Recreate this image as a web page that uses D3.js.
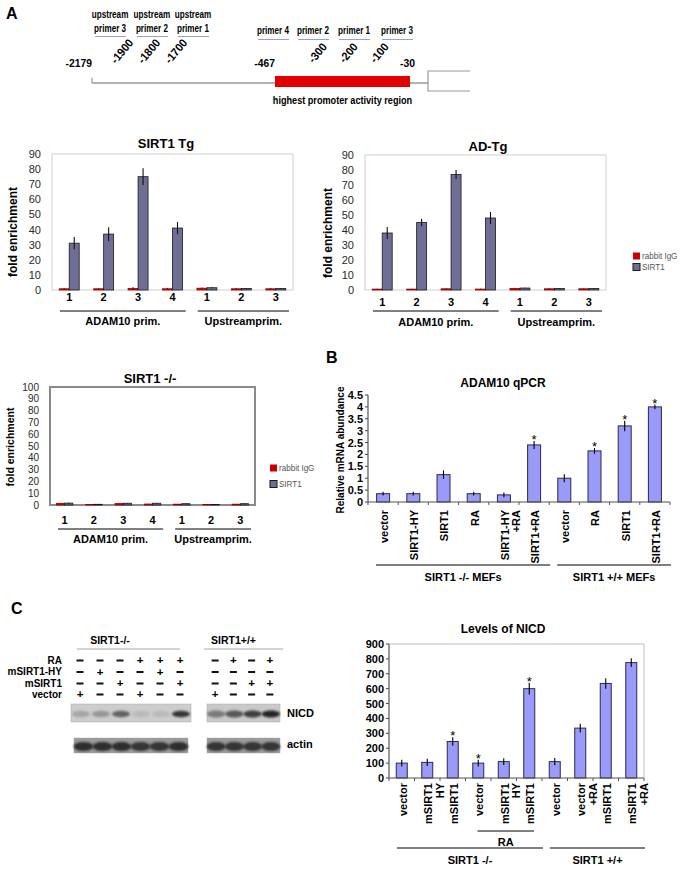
<!DOCTYPE html>
<html>
<head>
<meta charset="utf-8">
<script src="https://cdn.jsdelivr.net/npm/d3@7/dist/d3.min.js"></script>
<style>
  body { margin: 0; background: #fff; }
  svg { display: block; }
  text { font-family: "Liberation Sans", Arial, sans-serif; fill: #000; }
</style>
</head>
<body>
<div id="fig"></div>
<script>
// ---------- data ----------
// panel A, promoter map
const promoterMarks = [-2179, -1900, -1800, -1700, -467, -300, -200, -100, -30];
const rotatedMarks = [-1900, -1800, -1700, -300, -200, -100];
const primerNames = ['upstream primer 3', 'upstream primer 2', 'upstream primer 1',
  'primer 4', 'primer 2', 'primer 1', 'primer 3'];
const primerBp = [-2056, -1830, -1616, -495, -344, -211, -72];
const activityRegion = [-467, -30];

// panel A, ChIP
const chipLabels = ['1', '2', '3', '4', '1', '2', '3'];
const chipGroups = ['ADAM10 prim.', 'Upstreamprim.'];
const chipGroupSize = [4, 3];
const seriesNames = ['rabbit IgG', 'SIRT1'];

const tgIgg = [0.8, 0.8, 1.0, 0.8, 1.2, 0.8, 0.8];
const tgIggErr = [0.6, 0.6, 1.0, 0.6, 0.4, 0.5, 0.5];
const tgSirt1 = [31, 37, 75, 41, 1.5, 1.0, 1.0];
const tgSirt1Err = [4, 4.5, 5.5, 4, 0.3, 0.2, 0.2];

const adIgg = [0.6, 0.6, 0.8, 0.6, 1.0, 0.8, 0.8];
const adIggErr = [0.3, 0.3, 0.4, 0.3, 0.3, 0.3, 0.3];
const adSirt1 = [38, 45, 77, 48, 1.3, 1.0, 1.0];
const adSirt1Err = [4, 2.5, 3, 4, 0.2, 0.2, 0.2];

const koIgg = [1.4, 0.4, 1.2, 0.8, 0.7, 0.4, 0.7];
const koIggErr = [0.3, 0.2, 0.3, 0.2, 0.2, 0.2, 0.2];
const koSirt1 = [1.6, 0.6, 1.5, 1.5, 1.1, 0.5, 1.1];
const koSirt1Err = [0.3, 0.2, 0.3, 0.3, 0.2, 0.2, 0.2];

// panel B
const qpcrLabels = ['vector', 'SIRT1-HY', 'SIRT1', 'RA', 'SIRT1-HY\n+RA', 'SIRT1+RA',
  'vector', 'RA', 'SIRT1', 'SIRT1+RA'];
const qpcrValues = [0.35, 0.35, 1.15, 0.35, 0.3, 2.4, 1.0, 2.15, 3.2, 4.0];
const qpcrErr = [0.08, 0.08, 0.18, 0.08, 0.1, 0.17, 0.17, 0.12, 0.22, 0.1];
const qpcrStar = [0, 0, 0, 0, 0, 1, 0, 1, 1, 1];
const qpcrGroups = ['SIRT1 -/- MEFs', 'SIRT1 +/+ MEFs'];
const qpcrGroupSize = [6, 4];

// panel C, blot
const blotRows = ['RA', 'mSIRT1-HY', 'mSIRT1', 'vector'];
const koSigns = [[0, 0, 0, 1, 1, 1], [0, 1, 0, 0, 1, 0], [0, 0, 1, 0, 0, 1], [1, 0, 0, 1, 0, 0]];
const wtSigns = [[0, 1, 0, 1], [0, 0, 0, 0], [0, 0, 1, 1], [1, 0, 0, 0]];
const nicdKO = [0.22, 0.3, 0.6, 0.1, 0.1, 0.85];
const nicdWT = [0.45, 0.65, 0.8, 0.95];
const actinKO = [0.85, 0.85, 0.85, 0.8, 0.8, 0.85];
const actinWT = [0.8, 0.8, 0.8, 0.8];

// panel C, NICD levels
const nicdLabels = ['vector', 'mSIRT1\nHY', 'mSIRT1', 'vector', 'mSIRT1\nHY', 'mSIRT1',
  'vector', 'vector\n+RA', 'mSIRT1', 'mSIRT1\n+RA'];
const nicdValues = [100, 105, 245, 100, 110, 600, 110, 335, 635, 775];
const nicdErr = [22, 25, 28, 22, 22, 40, 25, 30, 35, 30];
const nicdStar = [0, 0, 1, 1, 0, 1, 0, 0, 0, 0];
const nicdGroups = ['SIRT1 -/-', 'SIRT1 +/+'];
const nicdGroupSize = [6, 4];

// ---------- canvas ----------
const width = 681;
const height = 869;

const svg = d3.select('#fig')
  .append('svg')
  .attr('width', width)
  .attr('height', height)
  .attr('xmlns', 'http://www.w3.org/2000/svg');

const defs = svg.append('defs');
defs.append('filter').attr('id', 'blur')
  .attr('x', '-50%').attr('y', '-50%').attr('width', '200%').attr('height', '200%')
  .append('feGaussianBlur').attr('stdDeviation', 1.3);

function letter(t, x, y) {
  svg.append('text').attr('x', x).attr('y', y)
    .style('font-size', '16px').style('font-weight', 'bold')
    .text(t);
}

letter('A', 6, 19);
letter('B', 326, 363);
letter('C', 11, 614);

// ---------- panel A: promoter map ----------
const map = svg.append('g');
const pos = d3.scaleLinear()
  .domain([-2179, -1900, -1700, -467, -30])
  .range([92, 133, 187, 275, 410]);
const mapY = 83;
const tss = 428;

map.append('line').attr('x1', pos(-2179)).attr('x2', tss)
  .attr('y1', mapY).attr('y2', mapY)
  .attr('stroke', '#999').attr('stroke-width', 1.5);
map.append('line').attr('x1', pos(-2179)).attr('x2', pos(-2179))
  .attr('y1', mapY - 5).attr('y2', mapY)
  .attr('stroke', '#999').attr('stroke-width', 1.2);
map.append('path')
  .attr('d', `M${tss + 42},71 H${tss} V91 H${tss + 42}`)
  .attr('fill', 'none').attr('stroke', '#999').attr('stroke-width', 1.2);
map.append('rect')
  .attr('x', pos(activityRegion[0])).attr('y', 76)
  .attr('width', pos(activityRegion[1]) - pos(activityRegion[0])).attr('height', 11)
  .attr('fill', '#e20000');

const boldText = (sel, size) => sel.style('font-size', `${size}px`).style('font-weight', 'bold');

map.append('text')
  .attr('transform', `translate(${(pos(activityRegion[0]) + pos(activityRegion[1])) / 2},104) scale(0.83,1)`)
  .attr('text-anchor', 'middle')
  .call(boldText, 11)
  .text('highest promoter activity region');

// straight position labels
map.selectAll('.mark')
  .data(promoterMarks.filter((d) => !rotatedMarks.includes(d)))
  .enter().append('text')
  .attr('transform', (d) => `translate(${d === -30 ? pos(d) + 5 : pos(d)},67) scale(0.9,1)`)
  .attr('text-anchor', 'end')
  .call(boldText, 11.5)
  .text((d) => `-${-d}`);

// slanted position labels
map.selectAll('.rmark')
  .data(rotatedMarks)
  .enter().append('text')
  .attr('transform', (d) => `translate(${pos(d) + 1},${d < -1000 ? 43 : 47}) rotate(-50) scale(0.95,1)`)
  .attr('text-anchor', 'end')
  .call(boldText, 11.5)
  .text((d) => `-${-d}`);

// primer labels
const primer = map.selectAll('.primer')
  .data(primerNames)
  .enter().append('g')
  .attr('transform', (d, i) => `translate(${pos(primerBp[i])},0)`);

primer.append('text')
  .attr('transform', (d) => `translate(0,${d.startsWith('upstream') ? 32 : 34}) scale(0.74,1)`)
  .attr('text-anchor', 'middle')
  .call(boldText, 11)
  .text((d) => d.replace('upstream ', ''));

primer.filter((d) => d.startsWith('upstream'))
  .append('text')
  .attr('transform', 'translate(0,18) scale(0.74,1)')
  .attr('text-anchor', 'middle')
  .call(boldText, 11)
  .text('upstream');

primer.append('line')
  .attr('x1', -15).attr('x2', 16)
  .attr('y1', (d) => (d.startsWith('upstream') ? 36.5 : 39.5))
  .attr('y2', (d) => (d.startsWith('upstream') ? 36.5 : 39.5))
  .attr('stroke', '#9a9ae0').attr('stroke-width', 1);

// ---------- panel A: ChIP charts ----------
function chipChart(c) {
  const g = svg.append('g');
  const x = d3.scaleBand().domain(d3.range(chipLabels.length)).range([c.left, c.right]);
  const y = d3.scaleLinear().domain([0, c.ymax]).range([c.bottom, c.top]);
  const bw = x.bandwidth() * c.barFrac;
  const mid = (i) => x(i) + x.bandwidth() / 2;

  g.append('rect')
    .attr('x', c.left).attr('y', c.top)
    .attr('width', c.right - c.left).attr('height', c.bottom - c.top)
    .attr('fill', 'none').attr('stroke', c.frame).attr('stroke-width', c.frameW);

  g.selectAll('.ytick')
    .data(d3.range(0, c.ymax + 1, 10))
    .enter().append('text')
    .attr('x', c.left - 11)
    .attr('y', (d) => y(d))
    .attr('dy', '0.36em')
    .attr('text-anchor', 'end')
    .style('font-size', `${c.tickSize}px`)
    .style('fill', '#2a2a2a')
    .text((d) => d);

  g.append('text')
    .attr('transform', `translate(${c.yTitleX},${c.yTitleY}) rotate(-90)`)
    .attr('text-anchor', 'middle')
    .style('font-size', `${c.yTitleSize}px`)
    .style('font-weight', 'bold')
    .text('fold enrichment');

  g.append('text')
    .attr('x', c.titleX).attr('y', c.titleY)
    .attr('text-anchor', 'middle')
    .style('font-size', '13px').style('font-weight', 'bold')
    .text(c.title);

  const series = [
    { vals: c.igg, err: c.iggErr, fill: '#cc0000', stroke: '#990000', dx: -bw },
    { vals: c.sirt1, err: c.sirt1Err, fill: '#6f6f96', stroke: '#1a1a1a', dx: 0 },
  ];

  series.forEach((s) => {
    g.selectAll(null)
      .data(s.vals)
      .enter().append('rect')
      .attr('x', (d, i) => mid(i) + s.dx)
      .attr('y', (d) => y(d))
      .attr('width', bw)
      .attr('height', (d) => y(0) - y(d))
      .attr('fill', s.fill)
      .attr('stroke', s.stroke)
      .attr('stroke-width', 0.8);

    g.selectAll(null)
      .data(s.vals)
      .enter().append('line')
      .attr('x1', (d, i) => mid(i) + s.dx + bw / 2)
      .attr('x2', (d, i) => mid(i) + s.dx + bw / 2)
      .attr('y1', (d, i) => y(d + s.err[i]))
      .attr('y2', (d, i) => y(Math.max(0, d - s.err[i])))
      .attr('stroke', s.dx < 0 ? '#990000' : '#111')
      .attr('stroke-width', 1.1);
  });

  g.selectAll('.xl')
    .data(chipLabels)
    .enter().append('text')
    .attr('x', (d, i) => mid(i))
    .attr('y', c.bottom + c.labelDy)
    .attr('text-anchor', 'middle')
    .style('font-size', '11px').style('font-weight', 'bold')
    .text((d) => d);

  let start = 0;
  chipGroups.forEach((name, gi) => {
    const end = start + chipGroupSize[gi] - 1;
    const x1 = x(start) + 8;
    const x2 = x(end) + x.bandwidth() - 4;
    g.append('line')
      .attr('x1', x1).attr('x2', x2)
      .attr('y1', c.bottom + c.lineDy).attr('y2', c.bottom + c.lineDy)
      .attr('stroke', '#000').attr('stroke-width', 1);
    g.append('text')
      .attr('x', (x1 + x2) / 2).attr('y', c.bottom + c.groupDy)
      .attr('text-anchor', 'middle')
      .style('font-size', '11px').style('font-weight', 'bold')
      .text(name);
    start = end + 1;
  });

  if (c.legend) {
    const lg = g.append('g').attr('transform', `translate(${c.legend.x},${c.legend.y})`);
    seriesNames.forEach((name, i) => {
      lg.append('rect')
        .attr('x', 0).attr('y', i * c.legend.gap - 3.5)
        .attr('width', 7).attr('height', 7)
        .attr('fill', series[i].fill)
        .attr('stroke', i ? '#1a1a1a' : 'none');
      lg.append('text')
        .attr('transform', `translate(9,${i * c.legend.gap}) scale(0.85,1)`)
        .attr('dy', '0.35em')
        .style('font-size', '9.5px')
        .style('fill', '#555')
        .text(name);
    });
  }
}

chipChart({
  title: 'SIRT1 Tg', titleX: 166, titleY: 148,
  left: 52, right: 293, top: 154, bottom: 290, ymax: 90,
  tickSize: 11, yTitleX: 17, yTitleY: 232, yTitleSize: 12,
  barFrac: 0.29, frame: '#cfcfcf', frameW: 1,
  labelDy: 11, lineDy: 21, groupDy: 35,
  igg: tgIgg, iggErr: tgIggErr, sirt1: tgSirt1, sirt1Err: tgSirt1Err,
  legend: null,
});

chipChart({
  title: 'AD-Tg', titleX: 488, titleY: 151,
  left: 365, right: 606, top: 155, bottom: 290, ymax: 90,
  tickSize: 11, yTitleX: 332, yTitleY: 233, yTitleSize: 12,
  barFrac: 0.29, frame: '#cfcfcf', frameW: 1,
  labelDy: 16, lineDy: 21, groupDy: 36,
  igg: adIgg, iggErr: adIggErr, sirt1: adSirt1, sirt1Err: adSirt1Err,
  legend: { x: 633, y: 256, gap: 11 },
});

chipChart({
  title: 'SIRT1 -/-', titleX: 150, titleY: 383,
  left: 50, right: 255, top: 387, bottom: 505, ymax: 100,
  tickSize: 10, yTitleX: 14, yTitleY: 447, yTitleSize: 10.5,
  barFrac: 0.28, frame: '#8a8a8a', frameW: 2,
  labelDy: 19, lineDy: 24, groupDy: 38,
  igg: koIgg, iggErr: koIggErr, sirt1: koSirt1, sirt1Err: koSirt1Err,
  legend: { x: 270, y: 468, gap: 16 },
});

// ---------- panels B and C: single series bars ----------
function barChart(c) {
  const g = svg.append('g');
  const x = d3.scaleBand().domain(d3.range(c.values.length)).range([c.left, c.right]);
  const y = d3.scaleLinear().domain([0, c.ymax]).range([c.bottom, c.top]);
  const mid = (i) => x(i) + x.bandwidth() / 2;

  if (c.frame) {
    g.append('path')
      .attr('d', `M${c.left},${c.top} H${c.right} V${c.bottom}`)
      .attr('fill', 'none').attr('stroke', '#bdbdbd').attr('stroke-width', 1);
  }

  g.append('text')
    .attr('x', c.titleX).attr('y', c.titleY)
    .attr('text-anchor', 'middle')
    .style('font-size', '12px').style('font-weight', 'bold')
    .text(c.title);

  const yTicks = d3.range(0, c.ymax + c.step / 2, c.step);
  g.selectAll('.yt')
    .data(yTicks)
    .enter().append('line')
    .attr('x1', c.left - 3).attr('x2', c.left)
    .attr('y1', (d) => y(d)).attr('y2', (d) => y(d))
    .attr('stroke', '#444');
  g.selectAll('.yl')
    .data(yTicks)
    .enter().append('text')
    .attr('x', c.left - 5)
    .attr('y', (d) => y(d))
    .attr('dy', '0.36em')
    .attr('text-anchor', 'end')
    .style('font-size', `${c.tickSize}px`).style('font-weight', 'bold')
    .text((d) => +d.toFixed(1));

  if (c.yTitle) {
    g.append('text')
      .attr('transform', `translate(${c.yTitleX},${c.yTitleY}) rotate(-90)`)
      .attr('text-anchor', 'middle')
      .style('font-size', '10px').style('font-weight', 'bold')
      .text(c.yTitle);
  }

  g.selectAll('.bar')
    .data(c.values)
    .enter().append('rect')
    .attr('x', (d, i) => mid(i) - c.barW / 2)
    .attr('y', (d) => y(d))
    .attr('width', c.barW)
    .attr('height', (d) => y(0) - y(d))
    .attr('fill', '#9a9af8')
    .attr('stroke', '#2a2a55')
    .attr('stroke-width', 1);

  g.selectAll('.err')
    .data(c.values)
    .enter().append('line')
    .attr('x1', (d, i) => mid(i)).attr('x2', (d, i) => mid(i))
    .attr('y1', (d, i) => y(d + c.err[i]))
    .attr('y2', (d, i) => y(d - c.err[i]))
    .attr('stroke', '#000').attr('stroke-width', 1.1);

  g.selectAll('.star')
    .data(c.values.map((d, i) => i).filter((i) => c.star[i]))
    .enter().append('text')
    .attr('x', (i) => mid(i))
    .attr('y', (i) => y(c.values[i] + c.err[i]) + 3)
    .attr('text-anchor', 'middle')
    .style('font-size', '13px')
    .text('*');

  // axes
  g.append('line')
    .attr('x1', c.left).attr('x2', c.left)
    .attr('y1', c.top).attr('y2', c.bottom)
    .attr('stroke', '#555').attr('stroke-width', 1.2);
  g.append('line')
    .attr('x1', c.left).attr('x2', c.right)
    .attr('y1', c.bottom).attr('y2', c.bottom)
    .attr('stroke', '#555').attr('stroke-width', 1.2);
  g.selectAll('.xt')
    .data(d3.range(c.values.length + 1))
    .enter().append('line')
    .attr('x1', (i) => c.left + i * x.step()).attr('x2', (i) => c.left + i * x.step())
    .attr('y1', c.bottom).attr('y2', c.bottom + 3)
    .attr('stroke', '#555');

  const lab = g.selectAll('.xl')
    .data(c.labels)
    .enter().append('text')
    .attr('transform', (d, i) => `translate(${mid(i) + 1},${c.labelTop}) rotate(-90)`)
    .attr('text-anchor', 'end')
    .style('font-size', '11px').style('font-weight', 'bold');
  lab.selectAll('tspan')
    .data((d) => d.split('\n'))
    .enter().append('tspan')
    .attr('x', 0)
    .attr('dy', (d, j) => (j ? '1.05em' : '0.36em'))
    .text((d) => d);

  (c.subGroups || []).forEach((s) => {
    const x1 = x(s.from) + 12;
    const x2 = x(s.to) + x.bandwidth() - 8;
    g.append('line')
      .attr('x1', x1).attr('x2', x2)
      .attr('y1', s.lineY).attr('y2', s.lineY)
      .attr('stroke', '#000');
    g.append('text')
      .attr('x', (x1 + x2) / 2).attr('y', s.labelY)
      .attr('text-anchor', 'middle')
      .style('font-size', '11px').style('font-weight', 'bold')
      .text(s.name);
  });

  let start = 0;
  c.groups.forEach((name, gi) => {
    const end = start + c.groupSize[gi] - 1;
    const x1 = x(start) + 8;
    const x2 = x(end) + x.bandwidth() + 1;
    g.append('line')
      .attr('x1', x1).attr('x2', x2)
      .attr('y1', c.groupLineY).attr('y2', c.groupLineY)
      .attr('stroke', '#000').attr('stroke-width', 1);
    g.append('text')
      .attr('x', (x1 + x2) / 2).attr('y', c.groupLabelY)
      .attr('text-anchor', 'middle')
      .style('font-size', '11px').style('font-weight', 'bold')
      .text(name);
    start = end + 1;
  });
}

barChart({
  title: 'ADAM10 qPCR', titleX: 503, titleY: 387,
  left: 368, right: 670, top: 395, bottom: 502, ymax: 4.5, step: 0.5,
  tickSize: 11, yTitle: 'Relative mRNA abundance', yTitleX: 344, yTitleY: 450,
  barW: 13, frame: false, labelTop: 510,
  labels: qpcrLabels, values: qpcrValues, err: qpcrErr, star: qpcrStar,
  groups: qpcrGroups, groupSize: qpcrGroupSize, groupLineY: 565, groupLabelY: 581,
});

barChart({
  title: 'Levels of NICD', titleX: 503, titleY: 633,
  left: 389, right: 644, top: 644, bottom: 778, ymax: 900, step: 100,
  tickSize: 11, yTitle: null,
  barW: 11, frame: true, labelTop: 783,
  labels: nicdLabels, values: nicdValues, err: nicdErr, star: nicdStar,
  subGroups: [{ name: 'RA', from: 3, to: 5, lineY: 831, labelY: 846 }],
  groups: nicdGroups, groupSize: nicdGroupSize, groupLineY: 848, groupLabelY: 864,
});

// ---------- panel C: western blot ----------
const blot = svg.append('g');
const koLane = d3.scaleBand().domain(d3.range(6)).range([71, 191]);
const wtLane = d3.scaleBand().domain(d3.range(4)).range([207, 280]);
const rowY = [660, 671.5, 683, 694];

[['SIRT1-/-', koLane], ['SIRT1+/+', wtLane]].forEach(([name, lane]) => {
  const [a, b] = lane.range();
  const ko = name === 'SIRT1-/-';
  blot.append('text')
    .attr('x', (a + b) / 2 + (ko ? -21 : -10)).attr('y', 644)
    .attr('text-anchor', 'middle')
    .style('font-size', '10.5px').style('font-weight', 'bold')
    .text(name);
  blot.append('line')
    .attr('x1', a + (ko ? 6 : -3)).attr('x2', b - (ko ? 11 : -3))
    .attr('y1', 649).attr('y2', 649)
    .attr('stroke', '#aaa');
});

blot.selectAll('.row')
  .data(blotRows)
  .enter().append('text')
  .attr('x', 62).attr('y', (d, i) => rowY[i] + 3.5)
  .attr('text-anchor', 'end')
  .style('font-size', '10px').style('font-weight', 'bold')
  .text((d) => d);

[[koSigns, koLane], [wtSigns, wtLane]].forEach(([signs, lane]) => {
  signs.forEach((row, r) => {
    const cx = (i) => lane(i) + lane.bandwidth() / 2 - 1;
    blot.selectAll(null)
      .data(row.map((d, i) => ({ d, i })).filter((o) => o.d))
      .enter().append('text')
      .attr('x', (o) => cx(o.i))
      .attr('y', rowY[r] + 4)
      .attr('text-anchor', 'middle')
      .style('font-size', '11.5px').style('font-weight', 'bold')
      .text('+');
    blot.selectAll(null)
      .data(row.map((d, i) => ({ d, i })).filter((o) => !o.d))
      .enter().append('rect')
      .attr('x', (o) => cx(o.i) - 3.5)
      .attr('y', rowY[r] - 0.5)
      .attr('width', 7).attr('height', 2)
      .attr('fill', '#111');
  });
});

function strip(lane, vals, y0, h, bg, rx, ry) {
  const [a, b] = lane.range();
  blot.append('rect')
    .attr('x', a).attr('y', y0).attr('width', b - a).attr('height', h)
    .attr('fill', bg).attr('stroke', '#aaa').attr('stroke-width', 0.5);
  blot.selectAll(null)
    .data(vals)
    .enter().append('ellipse')
    .attr('cx', (d, i) => lane(i) + lane.bandwidth() / 2)
    .attr('cy', y0 + h / 2 + 1)
    .attr('rx', lane.bandwidth() * rx)
    .attr('ry', ry)
    .attr('fill', '#1c1c1c')
    .attr('opacity', (d) => d)
    .attr('filter', 'url(#blur)');
}

strip(koLane, nicdKO, 704, 18, '#cdcdcd', 0.45, 3.2);
strip(wtLane, nicdWT, 704, 18, '#c9c9c9', 0.5, 3.4);
strip(d3.scaleBand().domain(d3.range(6)).range([74, 188]), actinKO, 738, 15, '#9a9a9a', 0.52, 4.5);
strip(wtLane, actinWT, 738, 15, '#9a9a9a', 0.52, 4.5);

blot.append('text').attr('x', 287).attr('y', 717)
  .style('font-size', '11px').style('font-weight', 'bold').text('NICD');
blot.append('text').attr('x', 287).attr('y', 748)
  .style('font-size', '11px').style('font-weight', 'bold').text('actin');
</script>
</body>
</html>
